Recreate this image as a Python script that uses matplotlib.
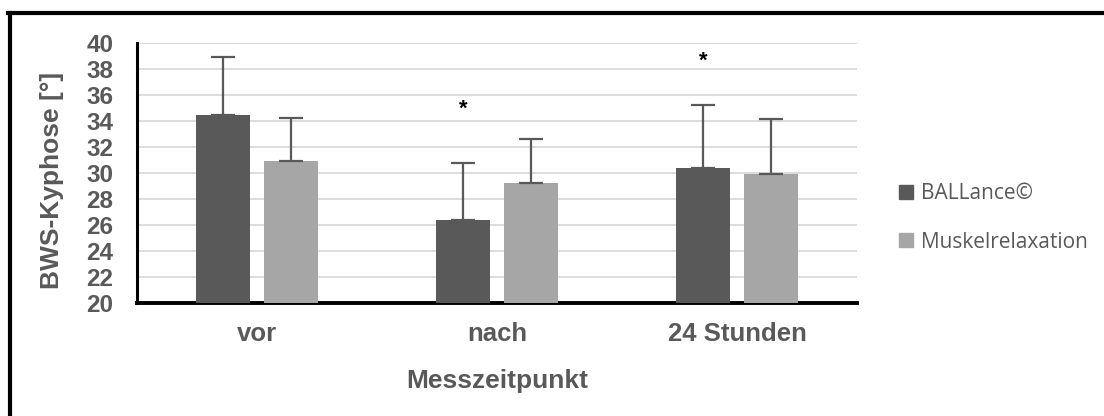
import matplotlib
matplotlib.use("Agg")
import matplotlib.pyplot as plt
from matplotlib.lines import Line2D
from matplotlib.patches import Patch
import numpy as np

# data
zeitpunkte = ["vor", "nach", "24 Stunden"]
ballance = [34.5, 26.4, 30.4]
ballance_sd = [4.4, 4.35, 4.8]
muskel = [30.9, 29.2, 29.95]
muskel_sd = [3.3, 3.45, 4.2]
stern_y = [None, 34.9, 38.6]  # significance marks above BALLance bars

dark = "#595959"
light = "#a6a6a6"
text_grey = "#595959"

fig = plt.figure(figsize=(11.04, 4.16), dpi=100)
ax = fig.add_axes([137 / 1104, 113 / 416, 720 / 1104, 260 / 416])

x = np.arange(len(zeitpunkte))
w = 0.221
off = 0.1417

ax.bar(x - off, ballance, w, color=dark, zorder=3, label="BALLance©")
ax.bar(x + off, muskel, w, color=light, zorder=3, label="Muskelrelaxation")
# only upper error bars
ax.errorbar(x - off, ballance, yerr=[np.zeros(3), ballance_sd], fmt="none",
            ecolor=dark, elinewidth=1.6, capsize=8.5, capthick=1.6, zorder=4)
ax.errorbar(x + off, muskel, yerr=[np.zeros(3), muskel_sd], fmt="none",
            ecolor=dark, elinewidth=1.6, capsize=8.5, capthick=1.6, zorder=4)

for i, s in enumerate(stern_y):
    if s is not None:
        ax.text(x[i] - off, s, "*", ha="center", va="center", fontsize=16,
                fontweight="bold", color="black", family="Liberation Sans")

ax.set_xlim(-0.5, 2.5)
ax.set_ylim(20, 40)
ax.set_yticks(range(20, 41, 2))
ax.set_xticks(x)
ax.set_xticklabels(zeitpunkte)
ax.yaxis.grid(True, color="#d9d9d9", linewidth=1.3, zorder=0)
ax.set_axisbelow(True)
ax.tick_params(length=0)
ax.tick_params(axis="y", pad=17)
ax.tick_params(axis="x", pad=14)
for lab in ax.get_yticklabels():
    lab.set_fontsize(17.5)
    lab.set_fontweight("bold")
    lab.set_color(text_grey)
    lab.set_family("Liberation Sans")
for lab in ax.get_xticklabels():
    lab.set_fontsize(18.5)
    lab.set_fontweight("bold")
    lab.set_color(text_grey)
    lab.set_family("Liberation Sans")

for side in ["top", "right"]:
    ax.spines[side].set_visible(False)
ax.spines["left"].set_linewidth(2.2)
ax.spines["bottom"].set_linewidth(2.8)
ax.spines["left"].set_color("black")
ax.spines["bottom"].set_color("black")

fig.text(52 / 1104, 1 - 180 / 416, "BWS-Kyphose [°]", rotation=90, ha="center",
         va="center", fontsize=19, fontweight="bold", color=text_grey,
         family="Liberation Sans")
fig.text(497 / 1104, 1 - 381 / 416, "Messzeitpunkt", ha="center", va="center",
         fontsize=19, fontweight="bold", color=text_grey, family="Liberation Sans")

handles = [Patch(color=dark), Patch(color=light)]
leg = fig.legend(handles, ["BALLance©", "Muskelrelaxation"],
                 loc="center left", bbox_to_anchor=(899 / 1104, 1 - 218 / 416),
                 frameon=False, handlelength=0.65, handleheight=0.65,
                 handletextpad=0.4, labelspacing=1.3, borderpad=0, borderaxespad=0,
                 prop={"family": "Open Sans", "size": 15})
for t in leg.get_texts():
    t.set_color(text_grey)

# outer frame (only top and left edge visible)
fig.add_artist(Line2D([10 / 1104, 10 / 1104], [0, 1 - 13 / 416], color="black",
                      linewidth=3, transform=fig.transFigure))
fig.add_artist(Line2D([8 / 1104, 1], [1 - 13 / 416, 1 - 13 / 416], color="black",
                      linewidth=3, transform=fig.transFigure))

fig.savefig("out.png", dpi=100)
